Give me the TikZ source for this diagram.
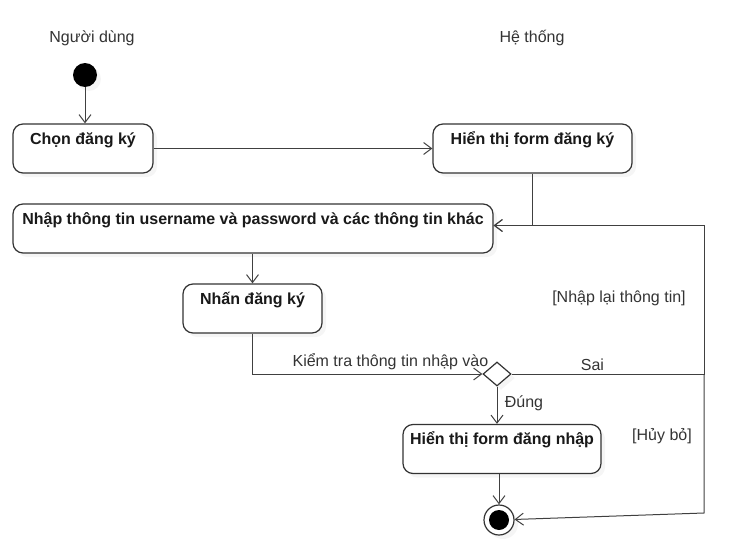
\documentclass[tikz,border=0pt]{standalone}
\usepackage{fontspec}
\setmainfont{Liberation Sans}
\usetikzlibrary{arrows.meta,shapes.geometric,shadows}

\tikzset{
  shade3/.style={drop shadow={shadow xshift=4pt,shadow yshift=-4pt,opacity=0.08}},
  act/.style={draw=black!80, line width=1.2pt, rounded corners=10pt, fill=white,
    font=\fontsize{16}{19}\selectfont\bfseries, text=black!90, align=center,
    inner xsep=2pt, inner ysep=0pt, text height=20pt, text depth=29pt, shade3},
  flow/.style={draw=black!75, line width=1pt, -{Straight Barb[length=8pt,width=12pt]}},
  lbl/.style={text=black!80},
}

\begin{document}
\begin{tikzpicture}[x=1pt,y=-1pt,font=\fontsize{16}{19}\selectfont]
\useasboundingbox (0,0) rectangle (745,549);

% lanes
\node[lbl] (user) at (92,38) {Người dùng};
\node[lbl] (sys) at (532,38) {Hệ thống};

% start and activities
\node[circle, fill=black, minimum size=24pt, inner sep=0pt, shade3] (init) at (85,75) {};
\node[act, minimum width=140pt] (chon) at (83,148.5) {Chọn đăng ký};
\node[act, minimum width=199pt] (form) at (532.5,148.5) {Hiển thị form đăng ký};
\node[act, minimum width=480pt] (nhap) at (253,228.5) {Nhập thông tin username và password và các thông tin khác};
\node[act, minimum width=139pt] (nhan) at (252.5,308.5) {Nhấn đăng ký};
\node[diamond, draw=black!80, line width=1.2pt, fill=white, minimum width=28pt,
  minimum height=24pt, inner sep=0pt, shade3] (check) at (497,374) {};
\node[act, minimum width=198pt] (login) at (502,449) {Hiển thị form đăng nhập};
\node[circle, draw=black!80, line width=1.2pt, fill=white, minimum size=30pt,
  inner sep=0pt, shade3] (final) at (499,520) {};
\fill[black] (final.center) circle[radius=10pt];

% guards
\node[lbl] (again) at (619,298) {[Nhập lại thông tin]};
\node[lbl] (cancel) at (662,436) {[Hủy bỏ]};

\coordinate (loop) at (704,374);
\coordinate (loopbot) at (704,513);

% flows
\draw[flow] (init.south) -- (init.south |- chon.north);
\draw[flow] (chon) -- (form);
\draw[flow] (form.south) |- ([yshift=3pt]nhap.east);
\draw[flow] (nhan.north |- nhap.south) -- (nhan.north);
\draw[flow] (nhan.south) |- node[lbl, pos=0.8, above]{Kiểm tra thông tin nhập vào} (check.west);
\draw[flow] (check.east) -- node[lbl, pos=0.42, above]{Sai} (loop) |- ([yshift=3pt]nhap.east);
\draw[flow] (loop) -- (loopbot) -- (final);
\draw[flow] (check.south) -- node[lbl, right, pos=0.45, xshift=4pt]{Đúng} (check.south |- login.north);
\draw[flow] (final |- login.south) -- (final);
\end{tikzpicture}
\end{document}
